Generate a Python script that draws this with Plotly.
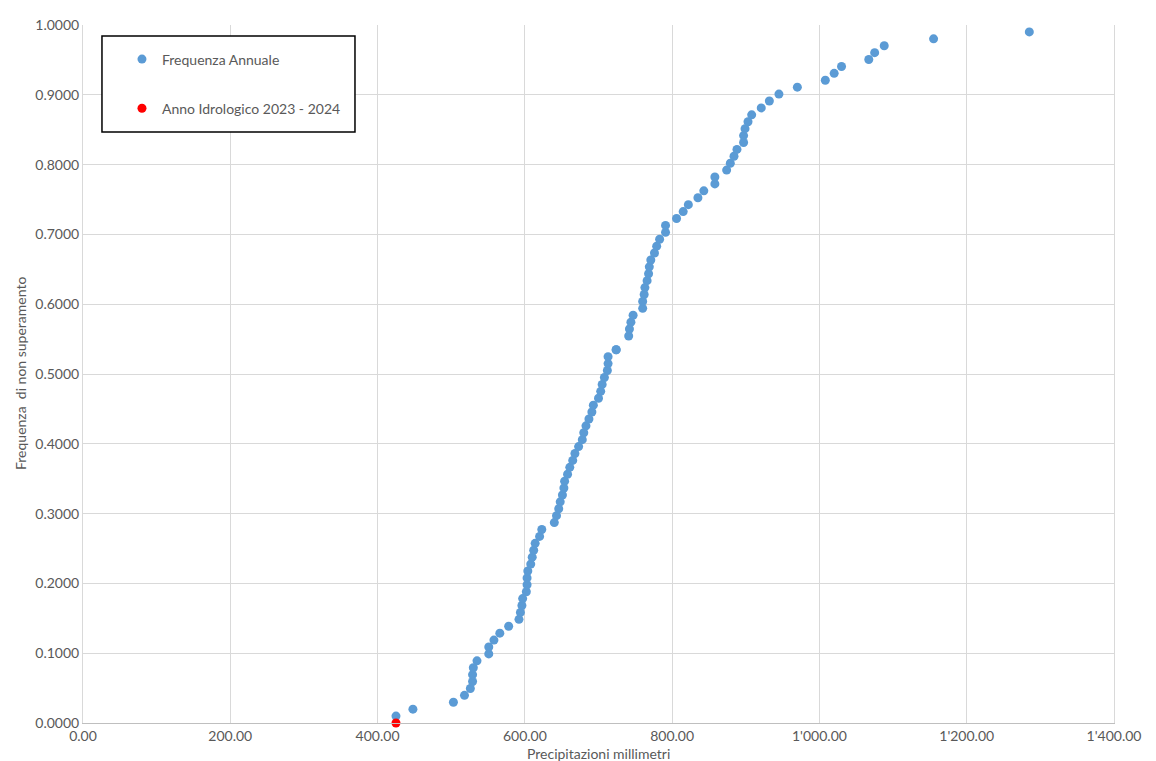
import plotly.graph_objects as go

# Annual precipitation (mm), sorted ascending, and non-exceedance frequency
precip_mm = [425, 448, 503, 518, 526, 529, 529, 530, 535, 551,
             551, 558, 566, 578, 592, 594, 596, 597, 602, 603,
             603, 604, 608, 610, 612, 614, 620, 623, 640, 643,
             646, 648, 651, 653, 654, 658, 661, 665, 668, 673,
             678, 680, 683, 687, 691, 693, 700, 703, 705, 708,
             712, 713, 713, 724, 724,
             741, 742, 744, 747, 760, 760, 762, 763, 766, 768,
             769, 771, 776, 779, 783, 791, 791, 806, 815, 822,
             835, 843, 858, 858, 874, 879, 884, 888, 897, 897,
             899, 903, 908, 921, 932, 945, 970, 1008, 1020, 1030,
             1067, 1075, 1088, 1155, 1285]
frequency = [0.0099, 0.0198, 0.0297, 0.0396, 0.0495, 0.0594, 0.0693, 0.0792, 0.0891, 0.0990,
             0.1089, 0.1188, 0.1287, 0.1386, 0.1485, 0.1584, 0.1683, 0.1782, 0.1881, 0.1980,
             0.2079, 0.2178, 0.2277, 0.2376, 0.2475, 0.2574, 0.2673, 0.2772, 0.2871, 0.2970,
             0.3069, 0.3168, 0.3267, 0.3366, 0.3465, 0.3564, 0.3663, 0.3762, 0.3861, 0.3960,
             0.4059, 0.4158, 0.4257, 0.4356, 0.4455, 0.4554, 0.4653, 0.4752, 0.4851, 0.4950,
             0.5050, 0.5149, 0.5248, 0.5347, 0.5347,
             0.5545, 0.5644, 0.5743, 0.5842, 0.5941, 0.6040, 0.6139, 0.6238, 0.6337, 0.6436,
             0.6535, 0.6634, 0.6733, 0.6832, 0.6931, 0.7030, 0.7129, 0.7228, 0.7327, 0.7426,
             0.7525, 0.7624, 0.7723, 0.7822, 0.7921, 0.8020, 0.8119, 0.8218, 0.8317, 0.8416,
             0.8515, 0.8614, 0.8713, 0.8812, 0.8911, 0.9010, 0.9109, 0.9208, 0.9307, 0.9406,
             0.9505, 0.9604, 0.9703, 0.9802, 0.9901]

current_year_mm = [425]
current_year_freq = [0.0]

x_tickvals = [0, 200, 400, 600, 800, 1000, 1200, 1400]
x_ticktext = ["0.00", "200.00", "400.00", "600.00", "800.00", "1'000.00", "1'200.00", "1'400.00"]
y_tickvals = [0.0, 0.1, 0.2, 0.3, 0.4, 0.5, 0.6, 0.7, 0.8, 0.9, 1.0]
y_ticktext = ["0.0000", "0.1000", "0.2000", "0.3000", "0.4000", "0.5000",
              "0.6000", "0.7000", "0.8000", "0.9000", "1.0000"]

FONT = "Lato, Carlito, Liberation Sans, Arial, sans-serif"
GREY_TXT = "#595959"
GRID = "#d9d9d9"

fig = go.Figure()
fig.add_trace(go.Scatter(
    x=precip_mm, y=frequency, mode="markers", name="Frequenza Annuale",
    legendgroup="a",
    marker=dict(color="#5B9BD5", size=9), cliponaxis=False))
fig.add_trace(go.Scatter(
    x=current_year_mm, y=current_year_freq, mode="markers",
    name="Anno Idrologico 2023 - 2024", legendgroup="b",
    marker=dict(color="#FF0000", size=9), cliponaxis=False))

fig.update_layout(
    width=1148, height=753,
    margin=dict(l=75, r=42, t=17, b=38, autoexpand=False),
    paper_bgcolor="white", plot_bgcolor="white",
    font=dict(family=FONT, size=14, color=GREY_TXT),
    showlegend=True,
    legend=dict(x=0.0378, y=0.9735, xanchor="left", yanchor="top",
                borderwidth=0, bgcolor="rgba(0,0,0,0)",
                font=dict(family=FONT, size=14, color=GREY_TXT),
                tracegroupgap=28),
    xaxis=dict(range=[0, 1400], tickvals=x_tickvals, ticktext=x_ticktext,
               showgrid=True, gridcolor=GRID, gridwidth=1, automargin=False,
               showline=True, linecolor="#bfbfbf", linewidth=1, mirror=False,
               zeroline=False, ticks="", tickfont=dict(size=14, color=GREY_TXT)),
    yaxis=dict(range=[0, 1], tickvals=y_tickvals, ticktext=y_ticktext,
               showgrid=True, gridcolor=GRID, gridwidth=1, automargin=False,
               showline=True, linecolor=GRID, linewidth=1, mirror=True,
               zeroline=False, ticks="", tickfont=dict(size=14, color=GREY_TXT)),
    shapes=[dict(type="rect", xref="paper", yref="paper",
                 x0=0.0184, x1=0.2638, y0=0.8467, y1=0.9842,
                 line=dict(color="black", width=1.5), fillcolor="white",
                 layer="above")],
    annotations=[
        dict(text="Precipitazioni millimetri", xref="paper", yref="paper",
             x=0.5, y=-0.0433, xanchor="center", yanchor="middle",
             showarrow=False, font=dict(size=14, color=GREY_TXT)),
        dict(text="Frequenza  di non superamento", xref="paper", yref="paper",
             x=-0.0611, y=0.5, xanchor="center", yanchor="middle", textangle=-90,
             showarrow=False, font=dict(size=14, color=GREY_TXT)),
    ],
)

fig.write_html("out.html")
